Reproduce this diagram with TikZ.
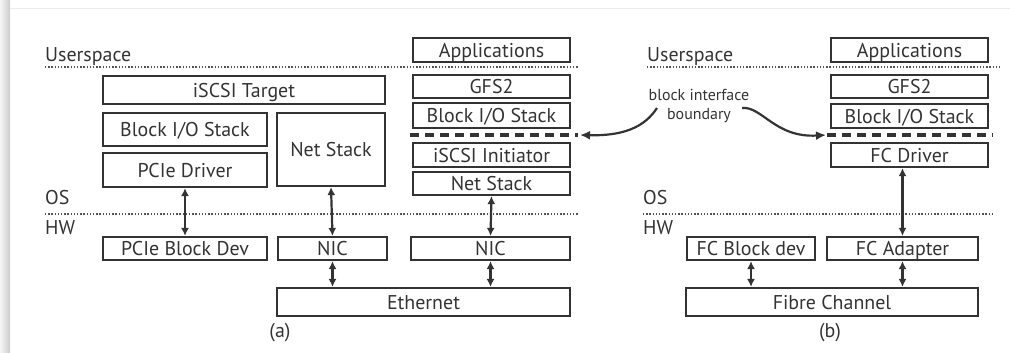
\documentclass[tikz,border=0pt]{standalone}
\usepackage{fontspec}
\setmainfont{PT Sans}
\usetikzlibrary{arrows.meta}
\definecolor{ink}{HTML}{333333}
\newcommand\bx[6]{\node[box, minimum width={#4bp-#2bp}, minimum height={#5bp-#3bp}] (#1) at ({(#2+#4)/2},{(#3+#5)/2}) {#6};}
\newcommand\labf{\fontsize{20}{24}\selectfont}
\begin{document}
\begin{tikzpicture}[x=1bp,y=-1bp,
  box/.style={draw=ink, line width=2.2bp, inner sep=0pt, text=ink, font=\fontsize{20}{24}\selectfont, text height=14bp, text depth=0bp},
  lay/.style={text=ink, font=\labf, inner sep=0pt, anchor=south west, text height=14bp, text depth=0bp},
  sep/.style={draw=ink!85, line width=1.4bp, dash pattern=on 1.4bp off 1.8bp},
  bnd/.style={draw=ink, line width=4bp, dash pattern=on 8.5bp off 6.5bp},
  arr/.style={draw=ink, line width=2.2bp, {Latex[length=8bp,width=8bp]}-{Latex[length=8bp,width=8bp]}},
  carr/.style={draw=ink, line width=2.2bp, -{Latex[length=10bp,width=9bp]}},
]
\useasboundingbox (0,0) rectangle (1010,352);
\shade[left color=black!4, right color=black!20] (0,0) rectangle (10,352);
\draw[black!8, line width=1bp] (10,8) -- (1010,8);

% layer separators
\draw[sep] (45,67) -- (578,67);
\draw[sep] (45,214) -- (578,214);
\draw[sep] (647,67) -- (1002,67);
\draw[sep] (643,214) -- (995,214);
\node[lay] (us1) at (45,62) {Userspace};
\node[lay] (os1) at (45,205) {OS};
\node[lay] (hw1) at (45,235) {HW};
\node[lay] (us2) at (647,62) {Userspace};
\node[lay] (os2) at (643,205) {OS};
\node[lay] (hw2) at (643,235) {HW};

% (a) target side
\bx{tgt}{103}{76}{385}{104}{iSCSI Target}
\bx{bio1}{103}{113}{267}{146}{Block I/O Stack}
\bx{pcied}{103}{153}{267}{187}{PCIe Driver}
\bx{nets1}{277}{113}{385}{186}{Net Stack}
\bx{pcibd}{103}{237}{267}{260}{PCIe Block Dev}
\bx{nic1}{278}{237}{387}{260}{NIC}
\bx{nic2}{411}{237}{570}{260}{NIC}
\bx{eth}{277}{288}{570}{316}{Ethernet}
% (a) initiator side
\bx{app1}{413}{38}{570}{62}{Applications}
\bx{gfs1}{413}{75}{570}{98}{GFS2}
\bx{bio2}{413}{103}{570}{128}{Block I/O Stack}
\bx{ini}{413}{143}{570}{167}{iSCSI Initiator}
\bx{nets2}{413}{172}{570}{195}{Net Stack}

% (b)
\bx{app3}{831}{38}{988}{62}{Applications}
\bx{gfs3}{831}{75}{988}{98}{GFS2}
\bx{bio3}{831}{104}{988}{128}{Block I/O Stack}
\bx{fcd}{831}{143}{988}{167}{FC Driver}
\bx{fcbd}{687}{237}{815}{260}{FC Block dev}
\bx{fca}{827}{237}{978}{260}{FC Adapter}
\bx{fibre}{686}{288}{978}{316}{Fibre Channel}

% arrows
\draw[arr] (pcied.south) -- (pcibd.north);
\draw[arr] (nets1.south) -- (nic1.north);
\draw[arr] (nic1.south) -- (nic1.south |- eth.north);
\draw[arr] (nets2.south) -- (nic2.north);
\draw[arr] (nic2.south) -- (nic2.south |- eth.north);
\draw[arr] (fca.north |- fcd.south) -- (fca.north);
\draw[arr] (fcbd.south) -- (fcbd.south |- fibre.north);
\draw[arr] (fca.south) -- (fca.south |- fibre.north);

% block interface boundary
\draw[bnd] (410,135) -- (578,135);
\draw[bnd] (827,135) -- (993,135);
\node[text=ink, font=\fontsize{16}{20}\selectfont, align=center, inner sep=0pt] (bib) at (699,106) {block interface\\boundary};
\coordinate (cl0) at (657,108);
\coordinate (cr0) at (742,108);
\coordinate (bl) at (580,135);
\coordinate (br) at (826,135);
\draw[carr] (cl0) .. controls (644,128) and (622,136) .. (bl);
\draw[carr] (cr0) .. controls (762,106) and (775,138) .. (br);

\node[text=ink, font=\labf, inner sep=0pt, text height=14bp, text depth=0bp, anchor=south] (la) at (280,338) {(a)};
\node[text=ink, font=\labf, inner sep=0pt, text height=14bp, text depth=0bp, anchor=south] (lb) at (830,338) {(b)};
\end{tikzpicture}
\end{document}
